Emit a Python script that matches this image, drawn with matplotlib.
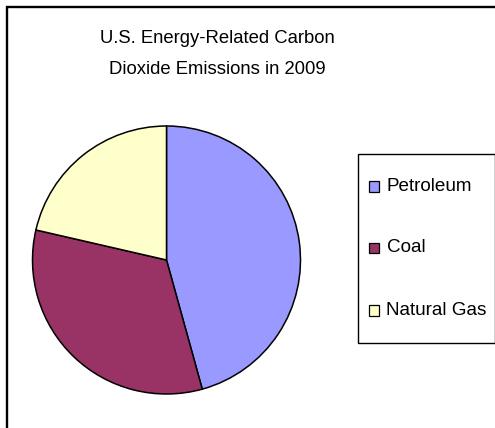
import matplotlib
matplotlib.use("Agg")
import matplotlib.pyplot as plt
from matplotlib.patches import Rectangle

# Data
categories = ["Petroleum", "Coal", "Natural Gas"]
shares = [45.7, 32.9, 21.4]
colors = ["#9999FF", "#993366", "#FFFFCC"]
title_lines = ["U.S. Energy-Related Carbon", "Dioxide Emissions in 2009"]

W, H = 495, 428
fig = plt.figure(figsize=(W / 100, H / 100), dpi=100)
fig.patch.set_facecolor("white")
FONT = ["Liberation Sans", "DejaVu Sans"]

def fx(px):
    return px / W

def fy(py):
    return 1 - py / H

# Outer chart frame (top and left visible, rest cropped)
fig.add_artist(Rectangle((fx(7), fy(600)), fx(800), (600 - 7) / H, fill=False,
                         edgecolor="black", linewidth=1.7, transform=fig.transFigure))

# Pie axes: center (166.5, 260), radius 134 px
cx, cy, r = 166.5, 260, 134
ax = fig.add_axes([fx(cx - r), fy(cy + r), 2 * r / W, 2 * r / H])
wedges, _ = ax.pie(shares, colors=colors, startangle=90, counterclock=False,
                   wedgeprops=dict(edgecolor="black", linewidth=1.1))
for w in wedges:
    w.set_clip_on(False)
ax.set_xlim(-1, 1)
ax.set_ylim(-1, 1)
ax.set_aspect("equal")
ax.axis("off")

# Title
fig.text(fx(217), fy(38.5), title_lines[0], ha="center", va="center",
         fontsize=13.3, family=FONT)
fig.text(fx(217), fy(69.5), title_lines[1], ha="center", va="center",
         fontsize=13.3, family=FONT)

# Legend box
lx0, ly0, lx1, ly1 = 358, 154, 494.5, 343
fig.add_artist(Rectangle((fx(lx0), fy(ly1)), fx(lx1 - lx0), (ly1 - ly0) / H,
                         fill=False, edgecolor="black", linewidth=1.0,
                         transform=fig.transFigure))
ys = [186.5, 248, 310.5]
sq = 10.5
for name, col, y in zip(categories, colors, ys):
    fig.add_artist(Rectangle((fx(368.5), fy(y + sq / 2)), fx(sq), sq / H,
                             facecolor=col, edgecolor="black", linewidth=0.9,
                             transform=fig.transFigure))
    fig.text(fx(386.5), fy(y), name, ha="left", va="center",
             fontsize=13.6, family=FONT)

fig.savefig("out.png", dpi=100, facecolor="white")
